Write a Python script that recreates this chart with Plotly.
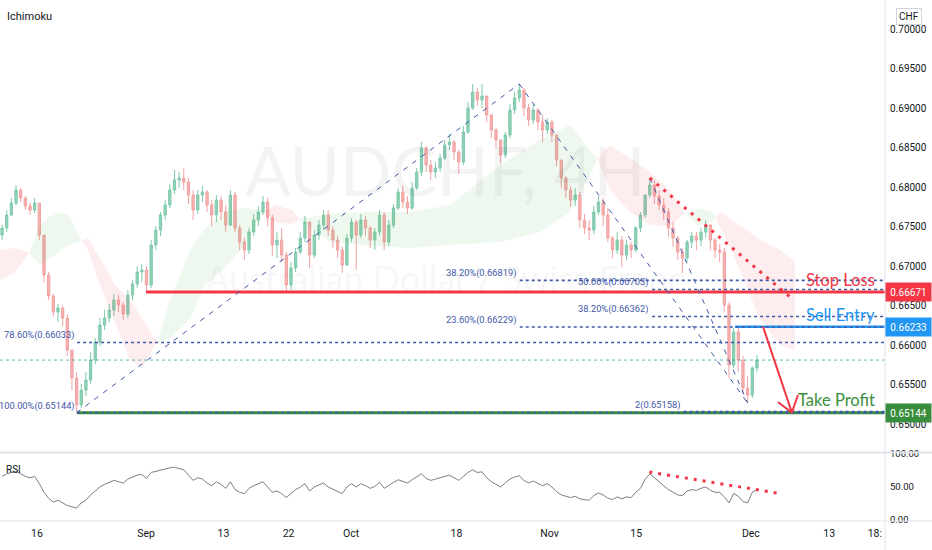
import plotly.graph_objects as go

# ---------------- data ----------------
OPEN = [0.67392,0.67481,0.67646,0.67797,0.67962,0.67861,0.67759,0.67709,0.67797,0.67392,
 0.66886,0.66620,0.66418,0.66468,0.66342,0.65937,0.65582,0.65241,0.65430,0.65557,
 0.65810,0.66038,0.66253,0.66342,0.66443,0.66570,0.66506,0.66392,0.66633,0.66772,
 0.66924,0.66949,0.66759,0.67266,0.67456,0.67646,0.67772,0.67962,0.68089,0.68114,
 0.68063,0.67899,0.67709,0.67899,0.67937,0.67772,0.67646,0.67835,0.67684,0.67519,
 0.67899,0.67481,0.67304,0.67202,0.67430,0.67582,0.67684,0.67810,0.67608,0.67266,
 0.67329,0.67139,0.66759,0.66975,0.67177,0.67354,0.67557,0.67139,0.67392,0.67519,
 0.67646,0.67456,0.67329,0.67202,0.67013,0.67354,0.67557,0.67392,0.67582,0.67481,
 0.67329,0.67430,0.67646,0.67304,0.67519,0.67734,0.67937,0.67810,0.67734,0.67987,
 0.68190,0.68494,0.68278,0.68190,0.68240,0.68367,0.68532,0.68570,0.68443,0.68316,
 0.68696,0.69000,0.69202,0.69101,0.69152,0.68911,0.68721,0.68595,0.68405,0.68658,
 0.68975,0.69127,0.69228,0.69000,0.68848,0.68975,0.68823,0.68721,0.68823,0.68658,
 0.68342,0.68114,0.67962,0.67835,0.67899,0.67582,0.67481,0.67456,0.67684,0.67810,
 0.67646,0.67354,0.67202,0.67329,0.67139,0.67266,0.67202,0.67481,0.67646,0.67899,
 0.68025,0.67886,0.67772,0.67684,0.67481,0.67354,0.67177,0.67101,0.67304,0.67380,
 0.67329,0.67430,0.67519,0.67329,0.67202,0.67177,0.66506,0.65747,0.66165,0.65810,
 0.65456,0.65367,0.65709]

HIGH = [0.67519,0.67709,0.67861,0.68025,0.67987,0.67886,0.67797,0.67861,0.67797,0.67392,
 0.66924,0.66646,0.66519,0.66494,0.66392,0.65937,0.65658,0.65506,0.65658,0.65911,
 0.66089,0.66342,0.66443,0.66519,0.66646,0.66633,0.66544,0.66696,0.66823,0.67000,
 0.67025,0.67000,0.67329,0.67506,0.67684,0.67835,0.68038,0.68215,0.68190,0.68240,
 0.68114,0.67962,0.67962,0.68013,0.67962,0.67835,0.67899,0.67886,0.67772,0.67962,
 0.67937,0.67519,0.67354,0.67481,0.67658,0.67759,0.67886,0.67861,0.67646,0.67430,
 0.67481,0.67177,0.67051,0.67228,0.67430,0.67633,0.67557,0.67456,0.67582,0.67709,
 0.67709,0.67506,0.67380,0.67253,0.67405,0.67608,0.67582,0.67658,0.67633,0.67506,
 0.67481,0.67709,0.67684,0.67582,0.67785,0.67987,0.68013,0.67886,0.68063,0.68240,
 0.68570,0.68519,0.68342,0.68316,0.68418,0.68595,0.68671,0.68595,0.68468,0.68772,
 0.69076,0.69304,0.69253,0.69304,0.69152,0.68924,0.68747,0.68595,0.68696,0.69051,
 0.69202,0.69304,0.69253,0.69051,0.69051,0.69000,0.68911,0.68873,0.68848,0.68671,
 0.68342,0.68139,0.68013,0.67987,0.67937,0.67658,0.67582,0.67759,0.67886,0.67861,
 0.67734,0.67380,0.67430,0.67380,0.67329,0.67304,0.67506,0.67684,0.67911,0.68114,
 0.68089,0.67962,0.67861,0.67734,0.67557,0.67380,0.67228,0.67329,0.67430,0.67430,
 0.67481,0.67582,0.67532,0.67354,0.67278,0.67228,0.66544,0.66215,0.66233,0.65861,
 0.65608,0.65734,0.65873]

LOW = [0.67329,0.67430,0.67633,0.67772,0.67810,0.67709,0.67646,0.67671,0.67329,0.66797,
 0.66570,0.66367,0.66291,0.66241,0.65861,0.65430,0.65144,0.65203,0.65354,0.65506,
 0.65759,0.65987,0.66190,0.66291,0.66367,0.66418,0.66316,0.66342,0.66570,0.66721,
 0.66797,0.66671,0.66721,0.67202,0.67380,0.67582,0.67734,0.67911,0.67987,0.67962,
 0.67785,0.67582,0.67658,0.67810,0.67684,0.67506,0.67557,0.67582,0.67430,0.67506,
 0.67430,0.67202,0.67076,0.67152,0.67380,0.67506,0.67646,0.67506,0.67127,0.67101,
 0.67051,0.66658,0.66696,0.66924,0.67152,0.67304,0.66975,0.67101,0.67329,0.67456,
 0.67380,0.67228,0.67101,0.66911,0.67000,0.67304,0.66949,0.67354,0.67380,0.67228,
 0.67202,0.67380,0.67202,0.67253,0.67481,0.67709,0.67734,0.67658,0.67709,0.67962,
 0.68139,0.68190,0.68089,0.68114,0.68190,0.68342,0.68468,0.68342,0.68165,0.68278,
 0.68671,0.68975,0.69025,0.69000,0.68823,0.68620,0.68494,0.68304,0.68367,0.68620,
 0.68924,0.69076,0.68899,0.68772,0.68797,0.68721,0.68570,0.68671,0.68570,0.68266,
 0.67987,0.67861,0.67747,0.67759,0.67481,0.67405,0.67329,0.67405,0.67646,0.67506,
 0.67304,0.67101,0.67152,0.66987,0.67076,0.67101,0.67177,0.67430,0.67608,0.67861,
 0.67785,0.67709,0.67582,0.67367,0.67240,0.67076,0.66911,0.67051,0.67228,0.67202,
 0.67253,0.67354,0.67202,0.67101,0.67051,0.66418,0.65582,0.65709,0.65658,0.65380,
 0.65266,0.65329,0.65658]

CLOSE = [0.67481,0.67646,0.67797,0.67962,0.67861,0.67759,0.67709,0.67797,0.67392,0.66886,
 0.66620,0.66418,0.66468,0.66342,0.65937,0.65582,0.65241,0.65430,0.65557,0.65810,
 0.66038,0.66253,0.66342,0.66443,0.66570,0.66506,0.66392,0.66633,0.66772,0.66924,
 0.66949,0.66759,0.67266,0.67456,0.67646,0.67772,0.67962,0.68089,0.68114,0.68063,
 0.67899,0.67709,0.67899,0.67937,0.67772,0.67646,0.67835,0.67684,0.67519,0.67899,
 0.67481,0.67304,0.67202,0.67430,0.67582,0.67684,0.67810,0.67608,0.67266,0.67329,
 0.67139,0.66759,0.66975,0.67177,0.67354,0.67557,0.67139,0.67392,0.67519,0.67646,
 0.67456,0.67329,0.67202,0.67013,0.67354,0.67557,0.67392,0.67582,0.67481,0.67329,
 0.67430,0.67646,0.67304,0.67519,0.67734,0.67937,0.67810,0.67734,0.67987,0.68190,
 0.68494,0.68278,0.68190,0.68240,0.68367,0.68532,0.68570,0.68443,0.68316,0.68696,
 0.69000,0.69202,0.69101,0.69152,0.68911,0.68721,0.68595,0.68405,0.68658,0.68975,
 0.69127,0.69228,0.69000,0.68848,0.68975,0.68823,0.68721,0.68823,0.68658,0.68342,
 0.68114,0.67962,0.67835,0.67899,0.67582,0.67481,0.67456,0.67684,0.67810,0.67646,
 0.67354,0.67202,0.67329,0.67139,0.67266,0.67202,0.67481,0.67646,0.67899,0.68025,
 0.67886,0.67772,0.67684,0.67481,0.67354,0.67177,0.67101,0.67304,0.67380,0.67329,
 0.67430,0.67519,0.67329,0.67202,0.67177,0.66506,0.65747,0.66165,0.65810,0.65456,
 0.65367,0.65709,0.65810]

RSI = [66,70,72,74,70,66,64,66,
 55,42,33,27,30,26,22,20,18,
 26,30,38,44,50,54,
 57,60,58,56,62,65,68,69,63,
 72,74,76,78,79,80,78,76,
 68,60,64,62,56,52,58,54,
 48,58,46,42,40,48,52,55,
 58,50,42,44,40,34,40,46,
 50,55,44,50,53,56,50,47,
 44,40,50,55,50,55,52,48,
 51,57,48,53,57,61,58,56,
 61,65,70,63,60,62,64,67,
 68,64,60,66,72,76,72,73,
 64,58,54,50,56,62,65,67,
 60,56,59,55,52,55,50,43,
 38,36,34,36,32,31,30,37,
 41,38,33,31,35,32,35,34,
 42,48,62,70,64,58,52,46,
 42,38,37,44,46,45,48,50,
 45,42,42,35,26,40,36,28,
 26,42,46]

# Ichimoku cloud (senkou span A / B), time in trading days from 16 Aug
KUMO_T = [-3.97,-2.36,-0.97,0.32,1.93,3.33,4.61,5.47,6.76,8.37,9.98,11.27,12.34,12.98,
          14.27,16.42,18.03,20.17,22.32,24.14,25.54,27.36,28.43,31.44,35.73,40.02,44.31,
          49.68,53.97,57.19,59.33,60.19,61.48,63.63,65.77,67.92,69.42,70.92,72.42,73.28,
          75.43,77.58,79.72,81.33]
SPAN_A = [0.66823,0.66924,0.67139,0.67519,0.67684,0.67658,0.67354,0.67202,0.66759,0.66291,
          0.65810,0.65709,0.65937,0.66063,0.66570,0.67202,0.67481,0.67684,0.67734,0.67709,
          0.67557,0.67532,0.67608,0.67658,0.67684,0.67684,0.67772,0.68278,0.68595,0.68785,
          0.68468,0.68342,0.67962,0.67684,0.67519,0.67506,0.67658,0.67734,0.67684,0.67506,
          0.66949,0.66316,0.66000,0.65937]
SPAN_B = [0.67202,0.67228,0.67177,0.67013,0.67139,0.67266,0.67304,0.67354,0.67101,0.66759,
          0.66570,0.66342,0.66127,0.66038,0.66089,0.66316,0.66759,0.66975,0.67266,0.67658,
          0.67772,0.67709,0.67557,0.67304,0.67253,0.67228,0.67266,0.67304,0.67430,0.67684,
          0.68152,0.68367,0.68532,0.68367,0.68190,0.67962,0.67684,0.67506,0.67557,0.67684,
          0.67519,0.67329,0.67202,0.67051]

TICK_T = [0, 11.7, 20, 27, 33.7, 45, 55, 64.3, 76.6, 85, 89.9]
TICK_TEXT = ["16", "Sep", "13", "22", "Oct", "18", "Nov", "15", "Dec", "13", "18:"]
PRICE_TICKS = [0.650, 0.655, 0.660, 0.665, 0.670, 0.675, 0.680, 0.685, 0.690, 0.695, 0.700]
RSI_TICKS = [0, 50, 100]

FIB_PRICES = [0.66033, 0.65144, 0.66819, 0.66229, 0.66703, 0.66362, 0.65158]
FIB_LABELS = ["78.60%(0.66033)", "100.00%(0.65144)", "38.20%(0.66819)", "23.60%(0.66229)",
              "50.00%(0.66703)", "38.20%(0.66362)", "2(0.65158)"]

STOP_LOSS = 0.66671
SELL_ENTRY = 0.66233
TAKE_PROFIT = 0.65144
LAST_PRICE = 0.65810

# ---------------- layout constants ----------------
X_MIN, X_MAX = -3.97, 90.99
n = len(CLOSE)
T = [-3.75 + 0.5 * i for i in range(n)]

AX_FONT = "Roboto, Lato, sans-serif"
FIB_COLOR = "#3f58a8"
RED = "#f23645"
BLUE = "#2196f3"
GREEN = "#388e3c"

fig = go.Figure()

# watermark
fig.add_trace(go.Scatter(x=[43.8], y=[0.68100], mode="text", text=["AUDCHF, 4H"],
                         textfont=dict(size=68, color="rgba(19,23,34,0.05)", family="Lato"),
                         hoverinfo="skip", showlegend=False))
fig.add_trace(go.Scatter(x=[43.8], y=[0.66790], mode="text", text=["Australian Dollar / Swiss Franc"],
                         textfont=dict(size=36, color="rgba(19,23,34,0.05)", family="Lato"),
                         hoverinfo="skip", showlegend=False))

# ichimoku cloud segments split where the spans cross
def add_segment(xs, top, bot, green):
    col = "rgba(76,175,80,0.09)" if green else "rgba(242,54,69,0.09)"
    fig.add_trace(go.Scatter(x=xs + xs[::-1], y=top + bot[::-1], fill="toself", mode="lines",
                             line=dict(width=0), fillcolor=col, hoverinfo="skip", showlegend=False))

seg_x, seg_a, seg_b = [KUMO_T[0]], [SPAN_A[0]], [SPAN_B[0]]
cur = SPAN_A[0] >= SPAN_B[0]
for k in range(1, len(KUMO_T)):
    g = SPAN_A[k] >= SPAN_B[k]
    if g != cur:
        d0 = SPAN_A[k - 1] - SPAN_B[k - 1]
        d1 = SPAN_A[k] - SPAN_B[k]
        f = d0 / (d0 - d1)
        xc = KUMO_T[k - 1] + f * (KUMO_T[k] - KUMO_T[k - 1])
        yc = SPAN_A[k - 1] + f * (SPAN_A[k] - SPAN_A[k - 1])
        seg_x.append(xc); seg_a.append(yc); seg_b.append(yc)
        add_segment(seg_x, seg_a, seg_b, cur)
        seg_x, seg_a, seg_b = [xc], [yc], [yc]
        cur = g
    seg_x.append(KUMO_T[k]); seg_a.append(SPAN_A[k]); seg_b.append(SPAN_B[k])
add_segment(seg_x, seg_a, seg_b, cur)

# candles
fig.add_trace(go.Candlestick(
    x=T, open=OPEN, high=HIGH, low=LOW, close=CLOSE,
    increasing=dict(line=dict(color="#7fcaab", width=1), fillcolor="#8ed0b4"),
    decreasing=dict(line=dict(color="#f2a2a2", width=1), fillcolor="#f5b0b0"),
    whiskerwidth=0, hoverinfo="skip", showlegend=False, xaxis="x", yaxis="y"))

# RSI
fig.add_trace(go.Scatter(x=T, y=RSI, mode="lines", line=dict(color="#7e7e7e", width=1),
                         hoverinfo="skip", showlegend=False, xaxis="x", yaxis="y2"))

shapes = []
def hline(y, x0, color, width, dash="solid", yref="y"):
    shapes.append(dict(type="line", xref="x", yref=yref, x0=x0, x1=X_MAX, y0=y, y1=y,
                       line=dict(color=color, width=width, dash=dash)))

def seg(x0, y0, x1, y1, color, width, dash="solid", yref="y"):
    shapes.append(dict(type="line", xref="x", yref=yref, x0=x0, y0=y0, x1=x1, y1=y1,
                       line=dict(color=color, width=width, dash=dash)))

# last price line
hline(LAST_PRICE, X_MIN, "rgba(38,166,154,0.75)", 1, "dot")

# trade levels
hline(STOP_LOSS, 11.7, RED, 3)
hline(SELL_ENTRY, 74.9, BLUE, 2.5)
hline(TAKE_PROFIT, 4.3, GREEN, 3)

# fib levels
FIB_START = [4.3, 4.3, 51.8, 51.8, 66.0, 66.0, 69.4]
FIB_LABEL_END = [4.15, 4.25, 51.6, 51.6, 65.8, 65.8, 69.2]
annotations = []
for p, lab, x0, xl in zip(FIB_PRICES, FIB_LABELS, FIB_START, FIB_LABEL_END):
    hline(p, x0, FIB_COLOR, 1.6, "dot")
    annotations.append(dict(x=xl, y=p, xref="x", yref="y", text=lab, showarrow=False,
                            xanchor="right", yanchor="bottom", yshift=-1,
                            font=dict(family=AX_FONT, size=9.3, color=FIB_COLOR)))

# fib trend lines (dashed)
seg(T[16], LOW[16], T[111], HIGH[111], FIB_COLOR, 1, "5px,6px")
seg(T[111], HIGH[111], T[160], LOW[160], FIB_COLOR, 1, "5px,6px")
seg(T[139], HIGH[139], T[160], LOW[160], FIB_COLOR, 1, "5px,6px")

# descending resistance (red dots)
seg(T[139], HIGH[139], 80.8, 0.66608, RED, 3, "3px,6px")
# RSI divergence line
seg(65.7, 72.7, 79.4, 40.9, RED, 3, "3px,6px", yref="y2")

# arrow to take profit
seg(77.9, SELL_ENTRY, 81.0, TAKE_PROFIT, RED, 2)
seg(81.0, TAKE_PROFIT, 79.5, 0.65279, RED, 2)
seg(81.0, TAKE_PROFIT, 81.65, 0.65367, RED, 2)

# pane borders
shapes.append(dict(type="line", xref="paper", yref="paper", x0=0, x1=1.06, y0=0.1315, y1=0.1315,
                   line=dict(color="#e0e3eb", width=2)))
shapes.append(dict(type="line", xref="paper", yref="paper", x0=0, x1=1.06, y0=0, y1=0,
                   line=dict(color="#e0e3eb", width=1)))
shapes.append(dict(type="line", xref="paper", yref="paper", x0=1, x1=1, y0=-0.06, y1=1,
                   line=dict(color="#e0e3eb", width=1)))

# text labels
for txt, y, col in [("Stop Loss", 0.66823, RED), ("Sell Entry", 0.66380, BLUE),
                    ("Take Profit", 0.65304, GREEN)]:
    annotations.append(dict(x=90.1, y=y, xref="x", yref="y", text=txt, showarrow=False,
                            xanchor="right", yanchor="middle",
                            font=dict(family="Lato", size=16.5, color=col)))

# price boxes on the scale
for val, col in [(STOP_LOSS, RED), (SELL_ENTRY, BLUE), (TAKE_PROFIT, GREEN)]:
    annotations.append(dict(x=1.0, y=val, xref="paper", yref="y", text=f"{val:.5f}",
                            showarrow=False, xanchor="left", yanchor="middle", bgcolor=col,
                            width=41, height=14, borderpad=2, align="center",
                            font=dict(family=AX_FONT, size=10, color="white")))

annotations.append(dict(x=1.027, y=0.969, xref="paper", yref="paper", text="CHF", showarrow=False,
                        xanchor="center", yanchor="middle", bordercolor="#d1d4dc", borderwidth=1,
                        borderpad=2, bgcolor="white",
                        font=dict(family=AX_FONT, size=10, color="#131722")))
annotations.append(dict(x=0.006, y=0.968, xref="paper", yref="paper", text="Ichimoku",
                        showarrow=False, xanchor="left", yanchor="middle",
                        font=dict(family=AX_FONT, size=11, color="#131722")))
annotations.append(dict(x=0.004, y=76, xref="paper", yref="y2", text="RSI",
                        showarrow=False, xanchor="left", yanchor="middle",
                        font=dict(family=AX_FONT, size=10, color="#131722")))

fig.update_layout(
    width=932, height=550, autosize=False,
    margin=dict(l=0, r=47, t=0, b=29, autoexpand=False),
    paper_bgcolor="white", plot_bgcolor="white",
    showlegend=False, shapes=shapes, annotations=annotations,
    xaxis=dict(range=[X_MIN, X_MAX], anchor="y2", showgrid=False, zeroline=False, showline=False,
               tickvals=TICK_T, ticktext=TICK_TEXT, ticks="", rangeslider=dict(visible=False),
               ticklabelstandoff=4, automargin=False,
               tickfont=dict(family=AX_FONT, size=10.5, color="#131722"), fixedrange=True),
    yaxis=dict(domain=[0.1324, 1], range=[0.64646, 0.70367], side="right", anchor="x",
               showgrid=False, zeroline=False, tickvals=PRICE_TICKS, tickformat=".5f", ticks="",
               ticklabelstandoff=4, automargin=False,
               tickfont=dict(family=AX_FONT, size=10, color="#131722")),
    yaxis2=dict(domain=[0, 0.1305], range=[-1.5, 101.5], side="right", anchor="x",
                showgrid=False, zeroline=False, tickvals=RSI_TICKS, tickformat=".2f", ticks="",
                ticklabelstandoff=4, automargin=False,
                tickfont=dict(family=AX_FONT, size=9.5, color="#131722")),
)

fig.write_html("out.html", config={"displayModeBar": False},
               post_script="document.body.style.margin='0';document.body.style.padding='0';")
